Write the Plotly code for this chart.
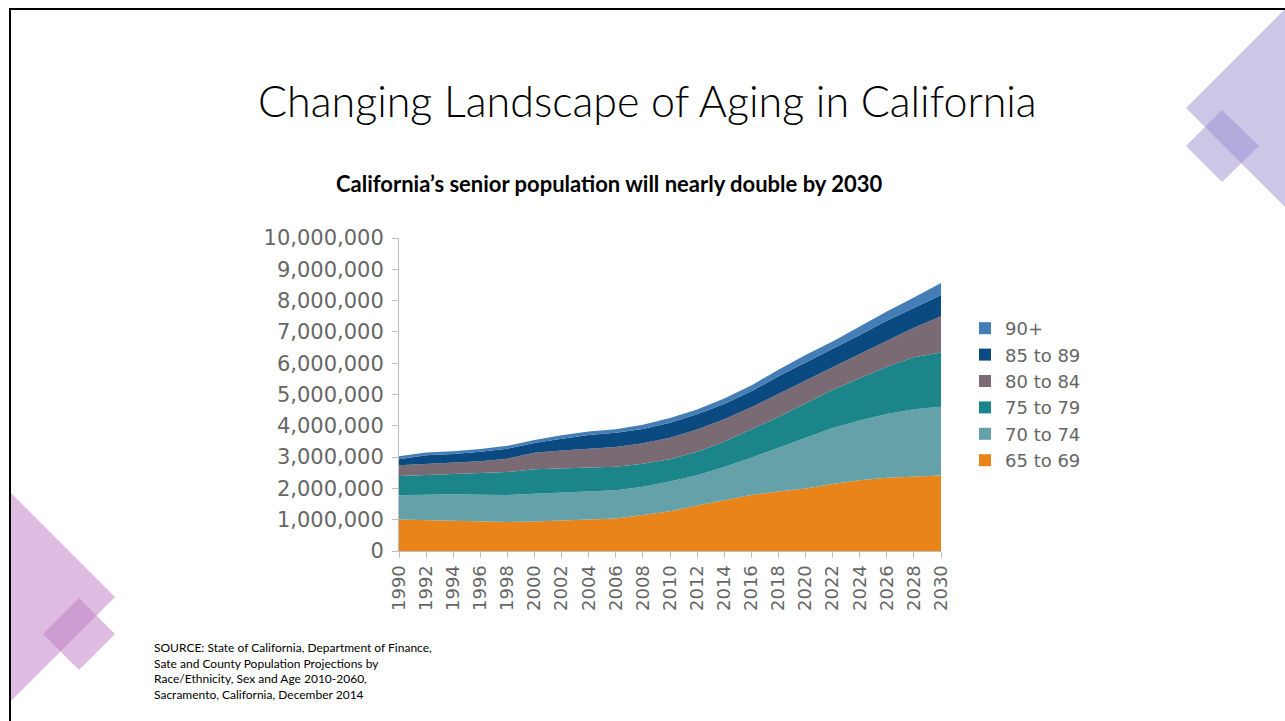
import plotly.graph_objects as go

# California population aged 65+ by age group (persons), every two years
years = list(range(1990, 2031, 2))

age_groups = ["65 to 69", "70 to 74", "75 to 79", "80 to 84", "85 to 89", "90+"]

pop_65_69 = [1010000, 990000, 950000, 930000, 930000, 940000, 980000, 1000000, 1040000, 1150000, 1270000,
             1450000, 1630000, 1790000, 1900000, 2000000, 2140000, 2260000, 2340000, 2380000, 2410000]
pop_70_74 = [770000, 810000, 860000, 870000, 860000, 890000, 880000, 910000, 900000, 900000, 950000,
             970000, 1050000, 1190000, 1400000, 1620000, 1790000, 1910000, 2040000, 2150000, 2200000]
pop_75_79 = [620000, 630000, 630000, 670000, 730000, 780000, 780000, 750000, 750000, 740000, 710000,
             750000, 810000, 910000, 980000, 1100000, 1210000, 1350000, 1510000, 1660000, 1730000]
pop_80_84 = [340000, 360000, 390000, 400000, 430000, 530000, 570000, 600000, 630000, 650000, 690000,
             710000, 720000, 700000, 740000, 740000, 730000, 770000, 830000, 940000, 1160000]
pop_85_89 = [190000, 270000, 270000, 300000, 320000, 310000, 380000, 450000, 460000, 460000, 480000,
             490000, 490000, 510000, 560000, 560000, 570000, 610000, 640000, 650000, 680000]
pop_90_up = [100000, 90000, 90000, 90000, 90000, 100000, 110000, 110000, 110000, 130000, 150000,
             150000, 170000, 190000, 210000, 240000, 250000, 270000, 290000, 320000, 380000]

series = [pop_65_69, pop_70_74, pop_75_79, pop_80_84, pop_85_89, pop_90_up]
colors = ["#E8841A", "#65A1A8", "#1B8589", "#7A6A73", "#0B4A80", "#457DB6"]

y_ticks = list(range(0, 10000001, 1000000))

title = "Changing Landscape of Aging in California"
subtitle = "California\u2019s senior population will nearly double by 2030"
source_lines = [
    "SOURCE: State of California, Department of Finance,",
    "Sate and County Population Projections by",
    "Race/Ethnicity, Sex and Age 2010-2060,",
    "Sacramento, California, December 2014",
]

# page geometry (pixels) for the plot area
W, H = 1285, 721
L, R, T, B = 399, 941, 238, 551


def px(x):
    return (x - L) / (R - L)


def py(y):
    return (B - y) / (B - T)


def poly(points):
    return "M " + " L ".join(f"{px(x)},{py(y)}" for x, y in points) + " Z"


fig = go.Figure()

for name, vals, col in zip(age_groups, series, colors):
    fig.add_trace(go.Scatter(
        x=years, y=vals, name=name, stackgroup="pop", mode="lines",
        line=dict(width=0, color=col), fillcolor=col, showlegend=False,
    ))

# square legend keys
for name, col in zip(age_groups, colors):
    fig.add_trace(go.Scatter(
        x=[None], y=[None], name=name, mode="markers",
        marker=dict(symbol="square", size=13, color=col),
    ))

axis_grey = "#BDBDBD"
label_grey = "#666666"
label_font = "DejaVu Sans"

fig.update_xaxes(
    range=[1990, 2030], tickmode="array", tickvals=years, ticktext=[str(y) for y in years],
    tickangle=-90, showgrid=False, zeroline=False, showline=True, linecolor=axis_grey,
    linewidth=1, ticks="outside", ticklen=6, tickcolor=axis_grey,
    tickfont=dict(family=label_font, size=18, color=label_grey),
)
fig.update_yaxes(
    range=[0, 10000000], tickmode="array", tickvals=y_ticks,
    ticktext=[f"{v:,}" for v in y_ticks], showgrid=False, zeroline=False,
    showline=True, linecolor=axis_grey, linewidth=1, ticks="outside", ticklen=6,
    tickcolor=axis_grey, ticklabelstandoff=4,
    tickfont=dict(family=label_font, size=21, color=label_grey),
)

shapes = [
    # top-right lavender diamonds
    dict(type="path", path=poly([(1186, 108), (1285, 9), (1285, 207)]),
         fillcolor="rgba(155,142,208,0.5)", line=dict(width=0), layer="below"),
    dict(type="path", path=poly([(1186, 146), (1222, 110), (1259, 146), (1222, 182)]),
         fillcolor="rgba(155,142,208,0.5)", line=dict(width=0), layer="below"),
    # bottom-left orchid diamonds
    dict(type="path", path=poly([(10, 492), (115, 597), (10, 702)]),
         fillcolor="rgba(190,122,196,0.5)", line=dict(width=0), layer="below"),
    dict(type="path", path=poly([(79, 598), (115, 634), (79, 670), (43, 634)]),
         fillcolor="rgba(190,122,196,0.5)", line=dict(width=0), layer="below"),
    # slide frame
    dict(type="line", x0=px(9), x1=px(1290), y0=py(9), y1=py(9),
         line=dict(color="black", width=2)),
    dict(type="line", x0=px(10), x1=px(10), y0=py(8), y1=py(730),
         line=dict(color="black", width=2)),
]
for s in shapes:
    s.update(xref="paper", yref="paper")

annotations = [
    dict(text=title, x=px(647), y=py(100), xanchor="center", yanchor="middle",
         font=dict(family="Lato", size=43, color="black", weight=300)),
    dict(text=f"<b>{subtitle}</b>", x=px(609), y=py(183), xanchor="center", yanchor="middle",
         font=dict(family="Lato", size=22, color="black")),
    dict(text="<br>".join(source_lines), x=px(152), y=py(638), xanchor="left", yanchor="top",
         align="left", font=dict(family="Lato", size=12, color="black")),
]
for a in annotations:
    a.update(xref="paper", yref="paper", showarrow=False)

fig.update_layout(
    width=W, height=H, autosize=False,
    margin=dict(l=L, r=W - R, t=T, b=H - B, pad=0),
    paper_bgcolor="white", plot_bgcolor="white",
    shapes=shapes, annotations=annotations,
    legend=dict(x=px(965), y=py(310), xanchor="left", yanchor="top", traceorder="reversed",
                font=dict(family=label_font, size=18, color=label_grey), bgcolor="rgba(0,0,0,0)",
                itemsizing="constant"),
    showlegend=True,
)

fig.write_html("out.html")
